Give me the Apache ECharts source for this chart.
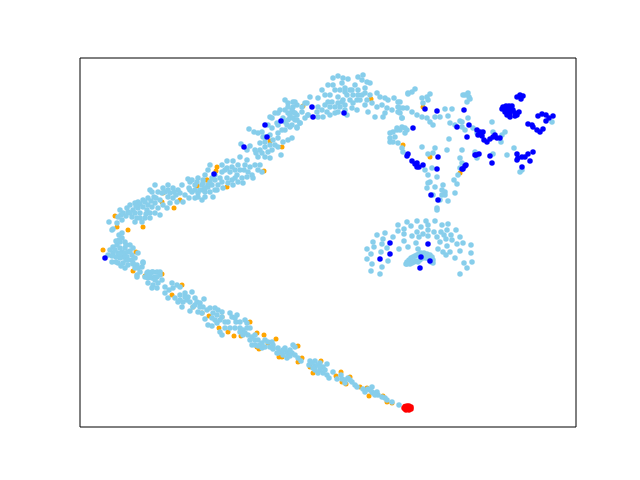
<!DOCTYPE html>
<html><head><meta charset="utf-8">
<style>html,body{margin:0;padding:0;background:#fff}#c{width:640px;height:480px}</style>
<script src="https://cdn.jsdelivr.net/npm/echarts@6/dist/echarts.min.js"></script></head>
<body><div id="c"></div>
<script>
const orangePoints=[[103,250],[128,230],[117,227],[115,216],[143,227],[136,252],[133,271],[162,274],[145,276],[162,202],[174,208],[180,200],[163,193],[197,185],[207,180],[182,285],[172,295],[193,307],[209,316],[202,313],[222,317],[219,328],[228,332],[234,336],[241,336],[250,322],[257,333],[264,335],[276,339],[259,349],[257,347],[268,343],[279,357],[298,346],[282,357],[302,358],[298,362],[310,367],[321,361],[313,373],[336,376],[341,372],[342,382],[346,384],[350,377],[360,387],[367,388],[369,396],[383,396],[387,402],[392,403],[217,167],[216,171],[282,147],[270,141],[264,171],[197,186],[207,180],[227,187],[303,106],[371,99],[423,107],[403,145],[430,157],[460,173]];
const skyPoints=[
[109,222],[113,229],[112,230],[118,217],[121,215],[127,208],[130,205],[135,203],[138,202],[123,213],[128,212],[133,210],[138,208],[132,217],[137,218],[142,222],[145,218],[150,218],[147,210],[143,200],[148,198],[145,202],[152,192],[155,185],[150,190],[154,197],[158,192],[162,193],[163,188],[168,185],[160,200],[155,203],[152,207],[158,208],[155,213],[160,215],[163,205],[167,208],[170,203],[173,188],[178,190],[182,185],[180,193],[173,198],[177,202],[183,202],[189,198],[188,179],[189,188],[195,198],[198,193],[202,200],[205,197],[198,178],[203,180],[208,185],[202,185],[208,170],[210,165],
[113,247],[110,250],[117,245],[120,242],[119,235],[122,233],[125,242],[130,245],[133,248],[113,253],[108,255],[112,262],[118,253],[122,252],[123,257],[120,258],[118,263],[123,263],[127,257],[132,255],[132,260],[128,265],[125,268],[137,265],[143,262],[142,267],[135,268],[140,272],[137,275],[138,253],[147,273],[152,272],[157,272],[160,275],[148,278],[155,277],[145,277],
[133,263],[143,263],[138,268],[137,277],[148,272],[153,272],[160,272],[147,277],[152,278],[157,277],[148,283],[153,285],[158,283],[152,288],[157,288],[165,287],[172,283],[177,285],[173,288],[169,290],[180,287],[165,293],[168,298],[175,298],[180,295],[185,293],[192,292],[188,297],[178,302],[183,302],[182,307],[187,300],[195,298],[197,302],[193,307],[190,311],[200,303],[204,299],[203,307],[198,312],[202,313],[210,308],[215,308],[218,310],[213,313],[217,315],[222,312],[205,319],[208,325],[212,326],[215,320],[217,323],[230,313],[237,315],[232,317],[228,322],[235,318],[222,317],[245,320],[247,323],[225,328],[230,328],[235,328],[240,328],[220,332],[222,335],[243,330],[247,328],[250,328],[243,335],[248,335],[252,337],[255,340],[252,345],[258,340],[262,343],[265,340],[268,342],[258,346],[265,347],[273,348],[277,353],[280,352],
[272,342],[273,345],[270,347],[273,349],[278,353],[282,352],[285,348],[287,352],[288,355],[283,355],[293,345],[295,347],[292,353],[295,355],[298,358],[301,361],[287,358],[310,361],[309,365],[315,361],[315,366],[320,363],[327,364],[323,367],[315,370],[320,370],[323,373],[318,373],[327,375],[329,378],[333,372],[337,379],[341,375],[345,380],[348,378],[342,379],[352,382],[355,385],[357,387],[363,389],[368,389],[372,387],[373,393],[377,392],[372,392],[378,395],[385,398],[387,400],[392,402],[399,405],
[198,197],[203,190],[197,182],[190,182],[203,183],[208,187],[210,192],[213,197],[218,185],[223,188],[220,178],[227,178],[222,165],[227,161],[233,161],[225,170],[230,172],[235,170],[232,180],[237,175],[240,170],[247,160],[245,165],[240,157],[250,167],[255,165],[260,165],[242,178],[247,177],[252,175],[253,178],[258,170],[262,172],[256,153],[258,157],[265,157],[270,158],[247,150],[250,146],[241,144],[249,129],[254,132],[258,133],[262,132],[263,137],[260,143],[265,147],[270,145],[275,145],[278,138],[273,140],[265,142],[278,147],[283,142],[288,140],[292,138],[281,155],[268,125],[272,118],[275,113],[278,113],[270,117],[285,110],[288,113],[293,112],[297,115],[283,118],[290,118],[277,123],[287,125],[292,125],[297,128],[300,123],[285,130],[278,133],[285,100],[288,103],[293,102],[297,105],[302,107],[307,103],[302,112],[308,115],
[295,102],[292,110],[295,113],[290,115],[295,120],[300,123],[297,127],[290,127],[310,97],[305,103],[308,115],[318,98],[322,90],[325,95],[328,85],[333,85],[333,78],[338,76],[343,78],[348,79],[342,83],[345,88],[350,90],[355,85],[358,77],[363,75],[362,80],[367,82],[370,83],[365,88],[358,90],[353,95],[347,95],[338,97],[332,102],[330,107],[318,107],[322,110],[317,112],[327,112],[318,117],[323,117],[330,115],[335,113],[340,107],[345,105],[342,102],[350,100],[353,103],[358,95],[357,110],[352,108],[347,115],[367,100],[365,105],[372,103],[377,93],[380,97],[385,98],[388,100],[377,107],[382,105],[387,108],[392,110],[368,112],[375,117],[383,117],[394,98],[400,102],[398,107],[398,112],[403,108],[402,118],[408,93],[407,108],[402,127],[397,130],[390,133],[407,130],
[415,89],[412,92],[408,94],[430,94],[427,97],[428,100],[422,98],[423,103],[463,95],[468,93],[469,97],[467,102],[445,109],[452,109],[412,112],[417,115],[422,117],[427,118],[430,122],[433,125],[398,102],[400,108],[385,113],[400,113],[402,118],[435,117],[440,117],[448,116],[450,123],[455,125],[460,121],[465,130],[468,118],[405,128],[405,133],[400,130],[397,128],[393,132],[390,138],[390,142],[395,137],[393,142],[398,143],[402,148],[403,152],[449,139],[422,147],[435,148],[433,153],[428,154],[447,150],[462,150],[460,158],[462,163],[432,168],[428,175],[430,182],[428,183],[437,177],[427,188],[435,187],[443,185],[442,190],[445,192],[442,195],[445,195],[454,180],[458,175],[457,184],[455,193],[448,201],[440,200],[437,208],[433,195],[425,170],
[465,95],[470,99],[492,122],[462,122],[462,127],[473,128],[477,133],[505,132],[502,135],[493,132],[501,142],[552,122],[475,152],[477,158],[493,154],[507,155],[514,148],[522,170],[520,172],[460,168],
[437,210],[407,222],[417,221],[426,221],[435,221],[398,225],[411,226],[421,227],[428,225],[442,225],[448,224],[404,229],[398,231],[417,232],[428,230],[434,232],[441,232],[447,230],[456,230],[423,234],[404,234],[385,233],[377,235],[412,236],[419,237],[428,236],[437,237],[444,235],[451,235],[393,237],[383,239],[446,239],[452,240],[460,237],[373,242],[404,241],[416,243],[440,242],[382,244],[457,244],[463,243],[374,247],[387,248],[408,247],[447,246],[471,245],[367,249],[399,249],[418,249],[438,249],[381,252],[443,252],[450,252],[460,251],[371,254],[446,255],[471,253],[367,259],[388,261],[455,258],[472,262],[372,264],[382,267],[464,263],[467,268],[371,271],[380,274],[460,274],
[406,264],[407,262],[409,260],[411,258],[413,257],[415,256],[417,255],[419,254],[421,253],[424,253],[427,254],[430,255],[432,257],[433,260],[410,264],[412,263],[414,262],[416,261],[418,262],[420,260],[423,258],[426,258],[429,259],[431,262],[433,263],[407,264],
[115,250],[120,248],[125,248],[116,257],[120,254],[125,253],[128,252],[130,251],[126,260],[121,266],[128,260],[133,264],[119,240],[122,238],[116,241],[126,245],[135,258],[112,256],[116,262],
[117,223],[122,220],[126,216],[130,213],[135,213],[140,213],[143,207],[140,204],[136,206],[148,205],[151,201],[156,198],[150,213],[146,214],[140,218],[135,222],[120,210],[168,197],[165,192],[170,193],[174,192],[176,195],[168,190],[185,195],[192,192],[195,185],[192,180],
[205,175],[212,178],[215,180],[212,185],[217,190],[205,192],[215,175],[222,172],[227,168],[232,167],[238,165],[244,170],[248,172],[235,178],[228,183],[222,182],[233,185],[238,182],[243,183],[210,182],[215,190],[205,188],[200,190],[195,190],[190,190],
[255,150],[260,150],[262,153],[268,152],[272,150],[265,137],[270,135],[272,128],[278,125],[282,130],[285,122],[288,120],[280,110],[288,107],[293,107],[293,118],[297,120],[305,118],
[335,90],[340,90],[345,92],[343,100],[338,103],[335,107],[328,102],[325,105],[330,95],[352,90],[357,100],[362,95],[365,93],[360,100],[370,95],[345,110],[338,112],
[155,280],[150,275],[162,280],[180,300],[185,297],[190,302],[195,305],[200,307],[207,310],[212,318],[220,320],[225,322],[240,322],[236,322],[240,332],[245,333],[250,340],[255,345],[260,345],[255,335],[262,348],[278,348],[283,350],[290,350],[290,356],[312,363],[318,365],[313,368],[320,367],[325,370],[345,383],[350,380],[365,392],[370,390],[375,395],[382,397]
];
const bluePoints=[[105,258],[214,174],[244,147],[265,125],[281,121],[267,137],[312,107],[313,117],[344,113],
[517,97],[520,95],[523,96],[521,99],[503,107],[506,106],[512,106],[502,109],[505,112],[508,110],[512,110],[507,115],[510,117],[515,116],[519,112],[515,113],[509,106],[505,108],[510,113],[513,110],[517,115],[508,114],[464,110],[469,125],[467,137],[477,130],[480,132],[483,132],[478,135],[482,136],[484,140],[487,142],[490,139],[493,137],[497,138],[500,138],[495,135],[538,116],[542,114],[546,115],[549,118],[553,116],[546,121],[528,124],[532,125],[533,127],[537,130],[540,132],[543,129],[517,154],[518,158],[522,157],[525,157],[528,154],[533,152],[530,161],[522,167],[517,160],[475,155],[479,154],[490,156],[492,163],[463,169],[466,165],
[425,109],[437,111],[457,127],[413,128],[408,154],[407,156],[412,161],[415,164],[417,163],[417,167],[419,167],[423,165],[438,157],[437,169],[431,195],[438,200],[462,169],[465,166],[476,155],
[390,243],[428,244],[390,254],[380,259],[421,257],[430,261],[420,268]];
const redPoints=[[404,408],[405,406.5],[407,406],[409,406],[411,407],[411,409],[409,410],[406,410],[407,408],[405,409]];
const xRange=[80,576],yRange=[58,427];
const mk=(data,color,size)=>({type:'scatter',data,symbol:'circle',symbolSize:size,itemStyle:{color,opacity:1},silent:true,animation:false});
const chart=echarts.init(document.getElementById('c'),null,{renderer:'canvas'});
chart.setOption({animation:false,backgroundColor:'#fff',
grid:{left:80,top:58,width:496,height:369,show:true,borderColor:'#000',borderWidth:1,backgroundColor:'#fff'},
xAxis:{type:'value',min:xRange[0],max:xRange[1],show:false},
yAxis:{type:'value',min:yRange[0],max:yRange[1],inverse:true,show:false},
series:[mk(orangePoints,'#FFA500',5),mk(skyPoints,'#87CEEB',5.5),mk(bluePoints,'#0000FF',5.5),mk(redPoints,'#FF0000',5.5)]});
</script></body></html>
